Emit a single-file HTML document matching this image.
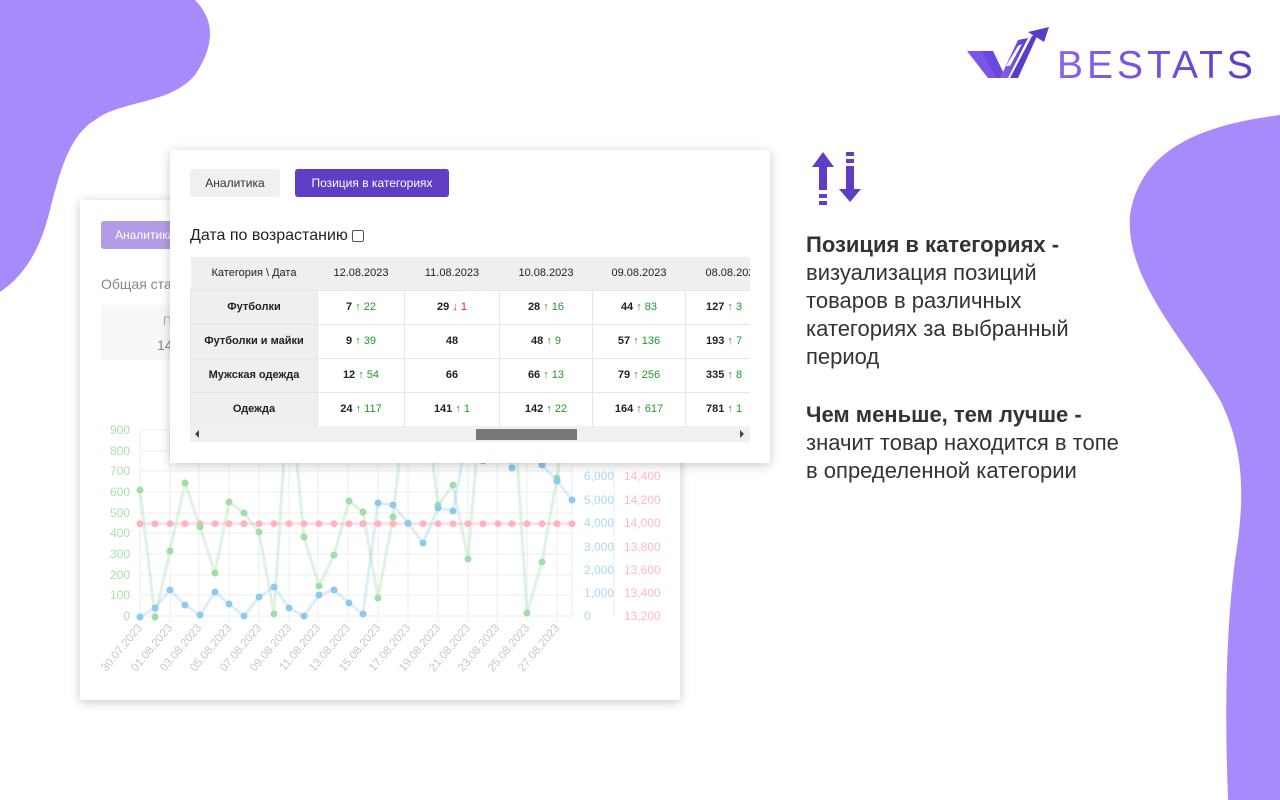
<!DOCTYPE html>
<html><head><meta charset="utf-8"><style>
*{margin:0;padding:0;box-sizing:border-box}
body{width:1280px;height:800px;overflow:hidden;background:#fff;position:relative;font-family:"Liberation Sans","DejaVu Sans",sans-serif}
.abs{position:absolute}
.card{position:absolute;background:#fff;box-shadow:0 2px 10px rgba(0,0,0,.22)}
table{border-collapse:collapse;font-size:11px;color:#222;table-layout:fixed}
td,th{text-align:center;height:34px;border:1px solid #e6e6e6;white-space:nowrap;overflow:hidden}
th{background:#efefef;font-weight:normal;height:33px;border:none}
td.c{background:#efefef;font-weight:bold}
.g{color:#1e9a2a}.r{color:#e02020}
.rt{position:absolute;left:806px;font-size:22px;line-height:28px;color:#333;font-family:"Liberation Sans","DejaVu Sans",sans-serif}
</style></head><body>
<svg class="abs" style="left:0;top:0" width="1280" height="800">
<path d="M0 0 L195 0 C215 20 215 45 195 75 C170 105 120 100 95 120 C70 135 60 170 50 210 C40 250 25 275 0 292 Z" fill="#a78bfa"/>
<path d="M1280 115 C1200 125 1140 150 1130 215 C1125 280 1185 340 1220 400 C1245 450 1245 500 1235 560 C1225 640 1225 720 1228 800 L1280 800 Z" fill="#a78bfa"/>
</svg>

<!-- back card -->
<div class="card" style="left:80px;top:200px;width:600px;height:500px">
<div class="abs" style="left:21px;top:21px;width:80px;height:28px;background:#b39ce6;border-radius:3px;color:#fff;font-size:12px;line-height:28px;padding-left:14px">Аналитика</div>
<div class="abs" style="left:21px;top:76px;font-size:14px;color:#888">Общая статистика</div>
<div class="abs" style="left:21px;top:105px;width:120px;height:55px;background:#f8f8fb"></div>
<div class="abs" style="left:83px;top:114px;font-size:12px;color:#aaa">П</div>
<div class="abs" style="left:77px;top:137px;font-size:14px;color:#888">14</div>
</div>

<svg class="abs" style="left:0;top:0" width="1280" height="800">
<g stroke="#eeeeee" stroke-width="1">
<line x1="140" y1="430" x2="572" y2="430"/><line x1="140" y1="451" x2="572" y2="451"/><line x1="140" y1="471" x2="572" y2="471"/><line x1="140" y1="492" x2="572" y2="492"/><line x1="140" y1="513" x2="572" y2="513"/><line x1="140" y1="533" x2="572" y2="533"/><line x1="140" y1="554" x2="572" y2="554"/><line x1="140" y1="575" x2="572" y2="575"/><line x1="140" y1="595" x2="572" y2="595"/><line x1="134" y1="616" x2="572" y2="616"/>
<line x1="140" y1="430" x2="140" y2="622"/><line x1="170" y1="430" x2="170" y2="622"/><line x1="199" y1="430" x2="199" y2="622"/><line x1="229" y1="430" x2="229" y2="622"/><line x1="259" y1="430" x2="259" y2="622"/><line x1="289" y1="430" x2="289" y2="622"/><line x1="318" y1="430" x2="318" y2="622"/><line x1="348" y1="430" x2="348" y2="622"/><line x1="378" y1="430" x2="378" y2="622"/><line x1="408" y1="430" x2="408" y2="622"/><line x1="438" y1="430" x2="438" y2="622"/><line x1="468" y1="430" x2="468" y2="622"/><line x1="497" y1="430" x2="497" y2="622"/><line x1="527" y1="430" x2="527" y2="622"/><line x1="557" y1="430" x2="557" y2="622"/><line x1="572" y1="430" x2="572" y2="616"/>
<line x1="614" y1="470" x2="614" y2="616"/>
</g>
<g font-size="12" fill="#a8e0b0" text-anchor="end">
<text x="130" y="434">900</text><text x="130" y="455">800</text><text x="130" y="475">700</text><text x="130" y="496">600</text><text x="130" y="517">500</text><text x="130" y="537">400</text><text x="130" y="558">300</text><text x="130" y="579">200</text><text x="130" y="599">100</text><text x="130" y="620">0</text>
</g>
<g font-size="12" fill="#a9d8f7">
<text x="584" y="480">6,000</text><text x="584" y="504">5,000</text><text x="584" y="527">4,000</text><text x="584" y="551">3,000</text><text x="584" y="574">2,000</text><text x="584" y="597">1,000</text><text x="584" y="620">0</text>
</g>
<g font-size="12" fill="#ffb8c6">
<text x="624" y="480">14,400</text><text x="624" y="504">14,200</text><text x="624" y="527">14,000</text><text x="624" y="551">13,800</text><text x="624" y="574">13,600</text><text x="624" y="597">13,400</text><text x="624" y="620">13,200</text>
</g>
<g font-size="11.5" fill="#c8c8c8" text-anchor="end">
<text transform="translate(143,628) rotate(-50)">30.07.2023</text><text transform="translate(173,628) rotate(-50)">01.08.2023</text><text transform="translate(202,628) rotate(-50)">03.08.2023</text><text transform="translate(232,628) rotate(-50)">05.08.2023</text><text transform="translate(262,628) rotate(-50)">07.08.2023</text><text transform="translate(292,628) rotate(-50)">09.08.2023</text><text transform="translate(321,628) rotate(-50)">11.08.2023</text><text transform="translate(351,628) rotate(-50)">13.08.2023</text><text transform="translate(381,628) rotate(-50)">15.08.2023</text><text transform="translate(411,628) rotate(-50)">17.08.2023</text><text transform="translate(441,628) rotate(-50)">19.08.2023</text><text transform="translate(471,628) rotate(-50)">21.08.2023</text><text transform="translate(500,628) rotate(-50)">23.08.2023</text><text transform="translate(530,628) rotate(-50)">25.08.2023</text><text transform="translate(560,628) rotate(-50)">27.08.2023</text>
</g>
<line x1="140" y1="523.7" x2="572" y2="523.7" stroke="rgba(255,180,195,.4)" stroke-width="3"/>
<polyline fill="none" stroke="rgba(150,215,160,.3)" stroke-width="3" points="140,490 155,617 170,551 185,483 200,527 215,573 229,502 244,513 259,532 274,614 289,380 304,537 319,586 334,555 349,501 363,512 378,598 393,517 408,380 423,380 438,505 453,485 468,559 483,380 498,380 512,380 527,613 542,562 557,478 572,380"/>
<polyline fill="none" stroke="rgba(140,200,240,.3)" stroke-width="3" points="140,617 155,608 170,590 185,605 200,615 215,592 229,604 244,616 259,597 274,587 289,608 304,616 319,595 334,590 349,603 363,614 378,503 393,505 408,523 423,543 438,508 453,511 468,430 483,461 498,430 512,468 527,420 542,465 557,481 572,500"/>
<g fill="#ffb3c1">
<circle cx="140" cy="523.7" r="3.5"/><circle cx="155" cy="523.7" r="3.5"/><circle cx="170" cy="523.7" r="3.5"/><circle cx="185" cy="523.7" r="3.5"/><circle cx="200" cy="523.7" r="3.5"/><circle cx="215" cy="523.7" r="3.5"/><circle cx="229" cy="523.7" r="3.5"/><circle cx="244" cy="523.7" r="3.5"/><circle cx="259" cy="523.7" r="3.5"/><circle cx="274" cy="523.7" r="3.5"/><circle cx="289" cy="523.7" r="3.5"/><circle cx="304" cy="523.7" r="3.5"/><circle cx="319" cy="523.7" r="3.5"/><circle cx="334" cy="523.7" r="3.5"/><circle cx="349" cy="523.7" r="3.5"/><circle cx="363" cy="523.7" r="3.5"/><circle cx="378" cy="523.7" r="3.5"/><circle cx="393" cy="523.7" r="3.5"/><circle cx="408" cy="523.7" r="3.5"/><circle cx="423" cy="523.7" r="3.5"/><circle cx="438" cy="523.7" r="3.5"/><circle cx="453" cy="523.7" r="3.5"/><circle cx="468" cy="523.7" r="3.5"/><circle cx="483" cy="523.7" r="3.5"/><circle cx="498" cy="523.7" r="3.5"/><circle cx="512" cy="523.7" r="3.5"/><circle cx="527" cy="523.7" r="3.5"/><circle cx="542" cy="523.7" r="3.5"/><circle cx="557" cy="523.7" r="3.5"/><circle cx="572" cy="523.7" r="3.5"/>
</g>
<g fill="#9edfa8">
<circle cx="140" cy="490" r="3.5"/><circle cx="155" cy="617" r="3.5"/><circle cx="170" cy="551" r="3.5"/><circle cx="185" cy="483" r="3.5"/><circle cx="200" cy="527" r="3.5"/><circle cx="215" cy="573" r="3.5"/><circle cx="229" cy="502" r="3.5"/><circle cx="244" cy="513" r="3.5"/><circle cx="259" cy="532" r="3.5"/><circle cx="274" cy="614" r="3.5"/><circle cx="304" cy="537" r="3.5"/><circle cx="319" cy="586" r="3.5"/><circle cx="334" cy="555" r="3.5"/><circle cx="349" cy="501" r="3.5"/><circle cx="363" cy="512" r="3.5"/><circle cx="378" cy="598" r="3.5"/><circle cx="393" cy="517" r="3.5"/><circle cx="438" cy="505" r="3.5"/><circle cx="453" cy="485" r="3.5"/><circle cx="468" cy="559" r="3.5"/><circle cx="527" cy="613" r="3.5"/><circle cx="542" cy="562" r="3.5"/><circle cx="557" cy="478" r="3.5"/>
</g>
<g fill="#8ccaf2">
<circle cx="140" cy="617" r="3.5"/><circle cx="155" cy="608" r="3.5"/><circle cx="170" cy="590" r="3.5"/><circle cx="185" cy="605" r="3.5"/><circle cx="200" cy="615" r="3.5"/><circle cx="215" cy="592" r="3.5"/><circle cx="229" cy="604" r="3.5"/><circle cx="244" cy="616" r="3.5"/><circle cx="259" cy="597" r="3.5"/><circle cx="274" cy="587" r="3.5"/><circle cx="289" cy="608" r="3.5"/><circle cx="304" cy="616" r="3.5"/><circle cx="319" cy="595" r="3.5"/><circle cx="334" cy="590" r="3.5"/><circle cx="349" cy="603" r="3.5"/><circle cx="363" cy="614" r="3.5"/><circle cx="378" cy="503" r="3.5"/><circle cx="393" cy="505" r="3.5"/><circle cx="408" cy="523" r="3.5"/><circle cx="423" cy="543" r="3.5"/><circle cx="438" cy="508" r="3.5"/><circle cx="453" cy="511" r="3.5"/><circle cx="483" cy="461" r="3.5"/><circle cx="512" cy="468" r="3.5"/><circle cx="542" cy="465" r="3.5"/><circle cx="557" cy="481" r="3.5"/><circle cx="572" cy="500" r="3.5"/>
</g>
</svg>

<!-- front card -->
<div class="card" style="left:170px;top:150px;width:600px;height:313px;overflow:hidden">
<div class="abs" style="left:20px;top:19px;width:90px;height:28px;background:#f0f0f0;border-radius:3px;font-size:12px;line-height:28px;text-align:center;color:#333">Аналитика</div>
<div class="abs" style="left:125px;top:19px;width:154px;height:28px;background:#5f3dc4;border-radius:3px;font-size:12px;line-height:28px;text-align:center;color:#fff">Позиция в категориях</div>
<div class="abs" style="left:20px;top:77px;font-size:16px;color:#222">Дата по возрастанию</div>
<div class="abs" style="left:182px;top:80px;width:12px;height:12px;border:1px solid #555;border-radius:2px"></div>
<div class="abs" style="left:20px;top:107px;width:560px;height:170px;overflow:hidden">
<table style="width:650px">
<colgroup><col style="width:127px"><col style="width:87px"><col style="width:95px"><col style="width:93px"><col style="width:93px"><col style="width:155px"></colgroup>
<tr><th>Категория \ Дата</th><th>12.08.2023</th><th>11.08.2023</th><th>10.08.2023</th><th>09.08.2023</th><th style="text-align:left;padding-left:20px">08.08.2023</th></tr>
<tr><td class="c">Футболки</td><td><b>7</b> <span class="g">↑ 22</span></td><td><b>29</b> <span class="r">↓ 1</span></td><td><b>28</b> <span class="g">↑ 16</span></td><td><b>44</b> <span class="g">↑ 83</span></td><td style="text-align:left;padding-left:20px"><b>127</b> <span class="g">↑ 3</span></td></tr>
<tr><td class="c">Футболки и майки</td><td><b>9</b> <span class="g">↑ 39</span></td><td><b>48</b></td><td><b>48</b> <span class="g">↑ 9</span></td><td><b>57</b> <span class="g">↑ 136</span></td><td style="text-align:left;padding-left:20px"><b>193</b> <span class="g">↑ 7</span></td></tr>
<tr><td class="c">Мужская одежда</td><td><b>12</b> <span class="g">↑ 54</span></td><td><b>66</b></td><td><b>66</b> <span class="g">↑ 13</span></td><td><b>79</b> <span class="g">↑ 256</span></td><td style="text-align:left;padding-left:20px"><b>335</b> <span class="g">↑ 8</span></td></tr>
<tr><td class="c">Одежда</td><td><b>24</b> <span class="g">↑ 117</span></td><td><b>141</b> <span class="g">↑ 1</span></td><td><b>142</b> <span class="g">↑ 22</span></td><td><b>164</b> <span class="g">↑ 617</span></td><td style="text-align:left;padding-left:20px"><b>781</b> <span class="g">↑ 1</span></td></tr>
</table>
</div>
<div class="abs" style="left:20px;top:276px;width:560px;height:16px;background:#f0f0f0"></div>
<div class="abs" style="left:306px;top:279px;width:101px;height:11px;background:#777"></div>
<div class="abs" style="left:25px;top:280px;width:0;height:0;border-top:4px solid transparent;border-bottom:4px solid transparent;border-right:4px solid #444"></div>
<div class="abs" style="left:570px;top:280px;width:0;height:0;border-top:4px solid transparent;border-bottom:4px solid transparent;border-left:4px solid #444"></div>
</div>

<!-- logo -->
<svg class="abs" style="left:960px;top:20px" width="310" height="70">
<defs><linearGradient id="lg" x1="0" x2="1"><stop offset="0" stop-color="#8b63f0"/><stop offset="1" stop-color="#5b3cc8"/></linearGradient></defs>
<polygon points="7,31 24,31 38,58 28,58" fill="#7b55e8"/>
<polygon points="22,31 33,31 46,58 36,58" fill="#6a48dc"/>
<polygon points="40,58 58,20 68,18 48,58" fill="url(#lg)"/>
<polygon points="46,46 58,26 62,24 50,46" fill="#fff"/>
<polygon points="50,58 72,16 78,14 58,58" fill="#5b3cc8"/>
<polygon points="68,12 89,7 84,22" fill="#5b3cc8"/>
<text x="97" y="58" font-size="39" fill="url(#lg)" letter-spacing="4" font-family="Liberation Sans, DejaVu Sans, sans-serif">BESTATS</text>
</svg>

<!-- icon -->
<svg class="abs" style="left:810px;top:150px" width="56" height="56">
<polygon points="13,2 24,17 17,17 17,40 9,40 9,17 2,17" fill="#5f3dc4"/>
<rect x="9" y="44" width="8" height="4" fill="#5f3dc4"/><rect x="9" y="51" width="8" height="4" fill="#5f3dc4"/>
<rect x="36" y="2" width="8" height="4" fill="#5f3dc4"/><rect x="36" y="9" width="8" height="4" fill="#5f3dc4"/>
<polygon points="36,16 44,16 44,39 51,39 40,52 29,39 36,39" fill="#5f3dc4"/>
</svg>

<div class="rt" style="top:231px"><b>Позиция в категориях -</b><br>визуализация позиций<br>товаров в различных<br>категориях за выбранный<br>период</div>
<div class="rt" style="top:401px"><b>Чем меньше, тем лучше -</b><br>значит товар находится в топе<br>в определенной категории</div>
</body></html>
